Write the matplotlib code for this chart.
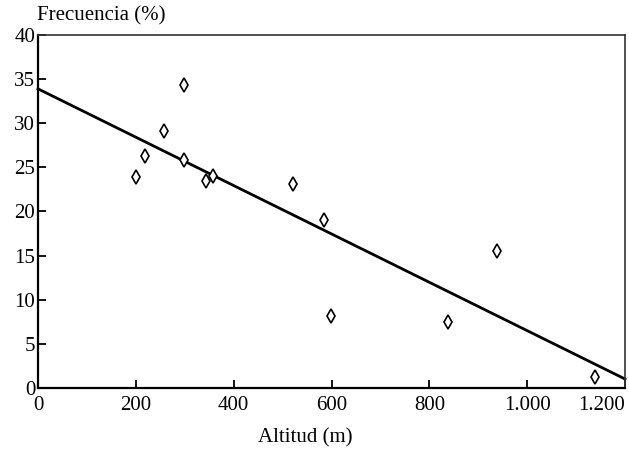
import matplotlib
matplotlib.use('Agg')
import matplotlib.pyplot as plt
import numpy as np

plt.rcParams['font.family'] = ['Liberation Serif', 'DejaVu Serif']

# altitud (m) y frecuencia (%)
altitud = [200, 218, 257, 298, 298, 343, 357, 522, 584, 598, 839, 939, 1139]
frecuencia = [23.9, 26.3, 29.1, 34.3, 25.8, 23.4, 24.0, 23.1, 19.0, 8.2, 7.5, 15.5, 1.2]

# recta de regresion
ordenada = 33.9
pendiente = -0.0274

xticks = [0, 200, 400, 600, 800, 1000, 1200]
xticklabels = ['0', '200', '400', '600', '800', '1.000', '1.200']
yticks = [0, 5, 10, 15, 20, 25, 30, 35, 40]

fig = plt.figure(figsize=(6.29, 4.57), dpi=100)
ax = fig.add_axes([38/629, 1 - 388/457, (625 - 38)/629, (388 - 35)/457])

xl = np.array([0, 1200])
ax.plot(xl, ordenada + pendiente*xl, color='black', lw=2, clip_on=False, zorder=2)
ax.plot(altitud, frecuencia, linestyle='none', marker='d', markersize=7.5,
        markerfacecolor='white', markeredgecolor='black', markeredgewidth=1.2,
        zorder=3)

ax.set_xlim(0, 1200)
ax.set_ylim(0, 40)
ax.set_xticks(xticks)
ax.set_xticklabels(xticklabels)
ax.set_yticks(yticks)
ax.get_xticklabels()[-1].set_ha('right')
ax.tick_params(direction='in', length=6, width=1.3, labelsize=15)
ax.tick_params(axis='x', pad=6)
ax.tick_params(axis='y', pad=2)

for s in ['left', 'bottom']:
    ax.spines[s].set_linewidth(1.6)
for s in ['top', 'right']:
    ax.spines[s].set_linewidth(1.2)
    ax.spines[s].set_color('#333333')

fig.text(37/629, 1 - 16/457, 'Frecuencia (%)', fontsize=15, ha='left', va='center')
fig.text(305/629, 1 - 438/457, 'Altitud (m)', fontsize=15, ha='center', va='center')

fig.savefig('out.png', dpi=100)
